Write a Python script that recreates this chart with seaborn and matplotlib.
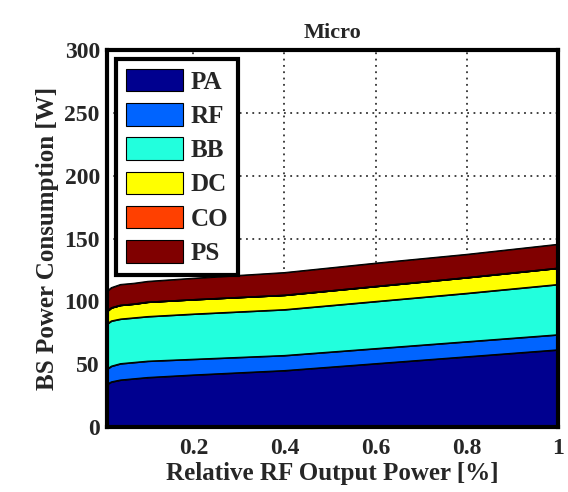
import numpy as np
import pandas as pd
import matplotlib
matplotlib.use("Agg")
import matplotlib.pyplot as plt
import seaborn as sns

# Datos (potencia en W por componente)
potencia_rel = [0.01, 0.02, 0.04, 0.07, 0.1, 0.2, 0.4, 0.6, 0.8, 1.0]
componentes = ["PA", "RF", "BB", "DC", "CO", "PS"]
pa = [34, 36, 37.5, 38.5, 39.5, 41.5, 45, 50.5, 56, 61.5]
rf = [12, 12.5, 13, 13, 13, 12.5, 12, 12, 12, 12]
bb = [36, 36, 35.5, 35.5, 35.5, 36, 36.5, 37.5, 38.5, 40]
dc = [10, 10.5, 11, 11, 11.5, 11.5, 11.5, 12, 12.5, 13]
co = [0, 0, 0, 0, 0, 0, 0, 0, 0, 0]
ps = [16, 16, 16.5, 16.5, 16.5, 17, 18, 18.5, 18.5, 19]
colores = ["#00008f", "#0064ff", "#22ffdd", "#ffff00", "#ff4000", "#800000"]

df = pd.DataFrame({"x": potencia_rel, "PA": pa, "RF": rf, "BB": bb,
                   "DC": dc, "CO": co, "PS": ps})

sns.set_style("white")
plt.rcParams["font.family"] = ["Liberation Serif", "DejaVu Serif"]
plt.rcParams["font.weight"] = "bold"

fig = plt.figure(figsize=(5.68, 4.92), dpi=100)
ax = fig.add_axes([0.188, 0.132, 0.794, 0.766])

ax.stackplot(df["x"], [df[c] for c in componentes], colors=colores,
             labels=componentes, edgecolor="black", linewidth=0.8, zorder=2)

# Lineas de borde entre capas
acumulado = df[componentes].cumsum(axis=1)
for c in componentes:
    sns.lineplot(x=df["x"], y=acumulado[c], ax=ax, color="black",
                 linewidth=0.8, zorder=3, legend=False)

ax.set_xlim(0.01, 1)
ax.set_ylim(0, 300)
ax.set_xticks([0.2, 0.4, 0.6, 0.8, 1])
ax.set_xticklabels(["0.2", "0.4", "0.6", "0.8", "1"])
ax.set_yticks(range(0, 301, 50))
ax.grid(True, color="#333333", linestyle=(0, (1, 2.5)), linewidth=1.3, zorder=0)
ax.set_axisbelow(True)
ax.tick_params(direction="in", length=4, width=1.5, labelsize=17)
ax.tick_params(axis="x", pad=8)
ax.tick_params(axis="y", pad=5)
for lbl in ax.get_xticklabels() + ax.get_yticklabels():
    lbl.set_fontweight("bold")
for s in ax.spines.values():
    s.set_linewidth(3)
    s.set_color("black")
    s.set_zorder(5)

ax.set_title("Micro", fontsize=16, fontweight="bold", pad=9)
ax.set_xlabel("Relative RF Output Power [%]", fontsize=18, fontweight="bold", labelpad=2)
ax.set_ylabel("BS Power Consumption [W]", fontsize=18, fontweight="bold", labelpad=4)

handles, labels = ax.get_legend_handles_labels()
leg = ax.legend(handles, labels, loc="upper left", frameon=True,
                fancybox=False, handlelength=2.3, handleheight=1.0,
                borderpad=0.4, labelspacing=0.38, handletextpad=0.3,
                borderaxespad=0.35, prop={"weight": "bold", "size": 18})
leg.get_frame().set_edgecolor("black")
leg.get_frame().set_linewidth(3)
leg.get_frame().set_alpha(1)
leg.set_zorder(6)

fig.savefig("out.png", dpi=100)
